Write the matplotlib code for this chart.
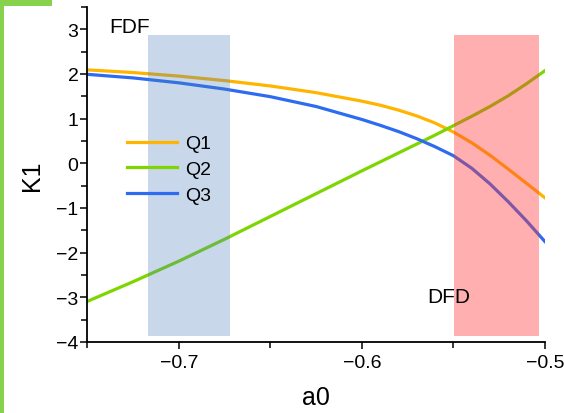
import matplotlib
matplotlib.use("Agg")
import matplotlib.pyplot as plt
from matplotlib.patches import Rectangle
from matplotlib.ticker import MultipleLocator

plt.rcParams['font.family'] = ['Liberation Sans', 'DejaVu Sans']

a0 = [-0.75, -0.725, -0.70, -0.675, -0.65, -0.625, -0.60, -0.59, -0.58,
      -0.57, -0.56, -0.55, -0.54, -0.53, -0.52, -0.51, -0.50]
q1 = [2.09, 2.03, 1.95, 1.85, 1.73, 1.58, 1.39, 1.30, 1.19,
      1.06, 0.90, 0.70, 0.46, 0.18, -0.13, -0.45, -0.77]
q2 = [-3.09, -2.65, -2.19, -1.70, -1.19, -0.68, -0.17, 0.03, 0.23,
      0.43, 0.63, 0.84, 1.05, 1.27, 1.51, 1.78, 2.07]
q3 = [1.99, 1.91, 1.80, 1.66, 1.49, 1.27, 0.98, 0.85, 0.71,
      0.55, 0.37, 0.17, -0.11, -0.46, -0.86, -1.29, -1.75]

fdf_band = (-0.717, -0.672)
dfd_band = (-0.5495, -0.503)
band_y = (-3.87, 2.87)

fig = plt.figure(figsize=(5.64, 4.14), dpi=100)
ax = fig.add_axes([0.155, 0.1715, 0.811, 0.8095])

ax.plot(a0, q1, color='#ffb400', lw=2.3, label='Q1')
ax.plot(a0, q2, color='#7ed600', lw=2.3, label='Q2')
ax.plot(a0, q3, color='#2d6cf0', lw=2.3, label='Q3')

# shaded regions drawn on top, semi-transparent
ax.fill_between(fdf_band, band_y[0], band_y[1], color=(0.29, 0.49, 0.73), alpha=0.3, lw=0, zorder=3)
ax.fill_between(dfd_band, band_y[0], band_y[1], color=(1.0, 0.22, 0.22), alpha=0.4, lw=0, zorder=3)

ax.text(-0.727, 3.07, 'FDF', fontsize=15, ha='center', va='center')
ax.text(-0.5525, -2.99, 'DFD', fontsize=15, ha='center', va='center', zorder=4)

ax.set_xlim(-0.75, -0.5)
ax.set_ylim(-4, 3.5)
ax.set_xticks([-0.7, -0.6, -0.5])
ax.set_xticklabels(['\u22120.7', '\u22120.6', '\u22120.5'])
ax.set_yticks([-4, -3, -2, -1, 0, 1, 2, 3])
ax.set_yticklabels(['\u22124', '\u22123', '\u22122', '\u22121', '0', '1', '2', '3'])
ax.xaxis.set_minor_locator(MultipleLocator(0.05))
ax.yaxis.set_minor_locator(MultipleLocator(0.5))
ax.tick_params(which='both', direction='out', width=1.1, colors='black', labelsize=14)
ax.tick_params(which='major', length=5)
ax.tick_params(which='minor', length=4)
ax.tick_params(axis='y', pad=1.5)
ax.tick_params(axis='x', pad=4)
for s in ['top', 'right']:
    ax.spines[s].set_visible(False)
for s in ['left', 'bottom']:
    ax.spines[s].set_linewidth(1.3)

ax.set_xlabel('a0', fontsize=18, va='center')
ax.set_ylabel('K1', fontsize=18, va='center')
ax.xaxis.set_label_coords(0.5, -0.163)
ax.yaxis.set_label_coords(-0.122, 0.5)

ax.legend(loc='center left', bbox_to_anchor=(0.086, 0.515), frameon=False,
          fontsize=14, handlelength=2.6, handletextpad=0.4, labelspacing=0.42,
          borderpad=0, borderaxespad=0)

# green strip from the screenshot edge
fig.patches.append(Rectangle((0, 0), 4 / 564, 1, transform=fig.transFigure,
                             color='#86d24c', lw=0))
fig.patches.append(Rectangle((0, 1 - 7 / 414), 52 / 564, 7 / 414, transform=fig.transFigure,
                             color='#86d24c', lw=0))

fig.savefig('out.png', dpi=100)
